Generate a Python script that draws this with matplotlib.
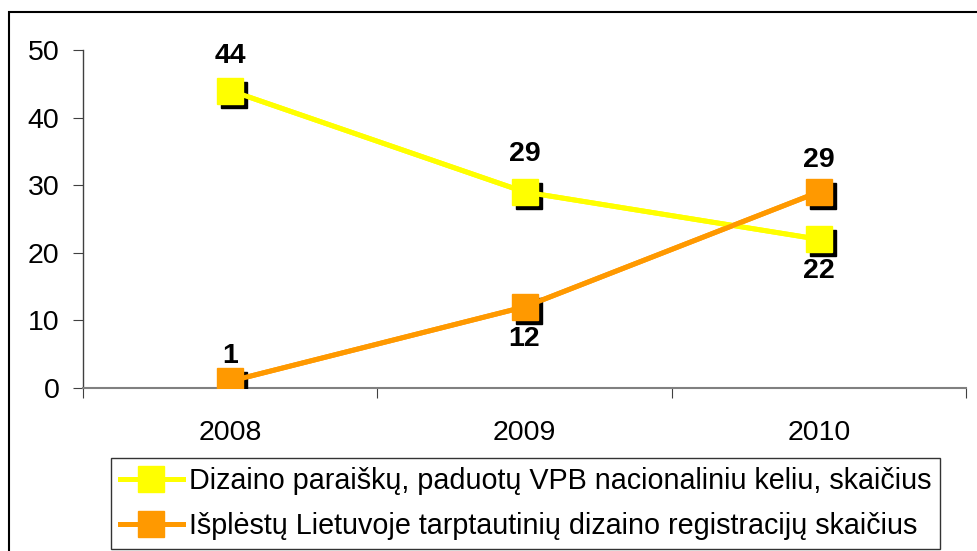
import matplotlib
matplotlib.use("Agg")
import matplotlib.pyplot as plt
import matplotlib.patches as patches
from matplotlib.transforms import offset_copy

years = ["2008", "2009", "2010"]
national = [44, 29, 22]
international = [1, 12, 29]
label_national = "Dizaino paraiškų, paduotų VPB nacionaliniu keliu, skaičius"
label_international = "Išplėstų Lietuvoje tarptautinių dizaino registracijų skaičius"

plt.rcParams['font.family'] = ['Liberation Sans', 'DejaVu Sans']

fig = plt.figure(figsize=(9.78, 5.51), dpi=100)
ax = fig.add_axes([83 / 978, 1 - 388 / 551, (966 - 83) / 978, (388 - 50) / 551])

x = list(range(len(years)))
shadow = offset_copy(ax.transData, fig=fig, x=4, y=-4, units='dots')

# label offsets (points) above / below each marker
series = [
    (national, '#FFFF00', label_national, [(0, 25), (0, 27.5), (0, -23)]),
    (international, '#FF9900', label_international, [(0, 18), (0, -23), (0, 23)]),
]
handles = []
for vals, color, label, offs in series:
    ax.plot(x, vals, color=color, lw=3.6, zorder=2, solid_capstyle='round')
    ax.plot(x, vals, ls='none', marker='s', ms=18.5, color='black',
            transform=shadow, zorder=3)
    h, = ax.plot(x, vals, color=color, lw=3.6, marker='s', ms=18.5,
                 mec=color, zorder=4, label=label)
    handles.append(h)
    for xi, v, off in zip(x, vals, offs):
        ax.annotate(str(v), (xi, v), xytext=off, textcoords='offset points',
                    ha='center', va='center', fontsize=20.5, fontweight='bold',
                    zorder=5)

ax.set_xlim(-0.5, 2.5)
ax.set_ylim(0, 50)
ax.set_yticks(range(0, 51, 10))
ax.set_xticks([-0.5, 0.5, 1.5, 2.5])
ax.set_xticklabels([])
ax.set_xticks(x, minor=True)
ax.set_xticklabels(years, minor=True)
ax.tick_params(axis='x', which='major', length=7, color='#404040')
ax.tick_params(axis='x', which='minor', length=0, labelsize=20.5, pad=23)
ax.tick_params(axis='y', length=7, labelsize=20.5, pad=10, color='#404040')

for s in ['top', 'right']:
    ax.spines[s].set_visible(False)
ax.spines['left'].set_color('#404040')
ax.spines['bottom'].set_color('#808080')
ax.spines['bottom'].set_linewidth(1.5)
ax.spines['left'].set_linewidth(1.0)

fig.legend(handles=handles, loc='upper left',
           bbox_to_anchor=(111 / 978, 1 - 458 / 551), fontsize=20.7,
           frameon=True, fancybox=False, edgecolor='black',
           handlelength=2.2, handletextpad=0.2, borderpad=0.3,
           labelspacing=0.62, borderaxespad=0)

fig.patches.append(patches.Rectangle((9 / 978, -0.1), 1.1, (551 - 12) / 551 + 0.1,
                                     transform=fig.transFigure, fill=False,
                                     lw=1.5, edgecolor='black'))

fig.savefig('out.png', dpi=100)
